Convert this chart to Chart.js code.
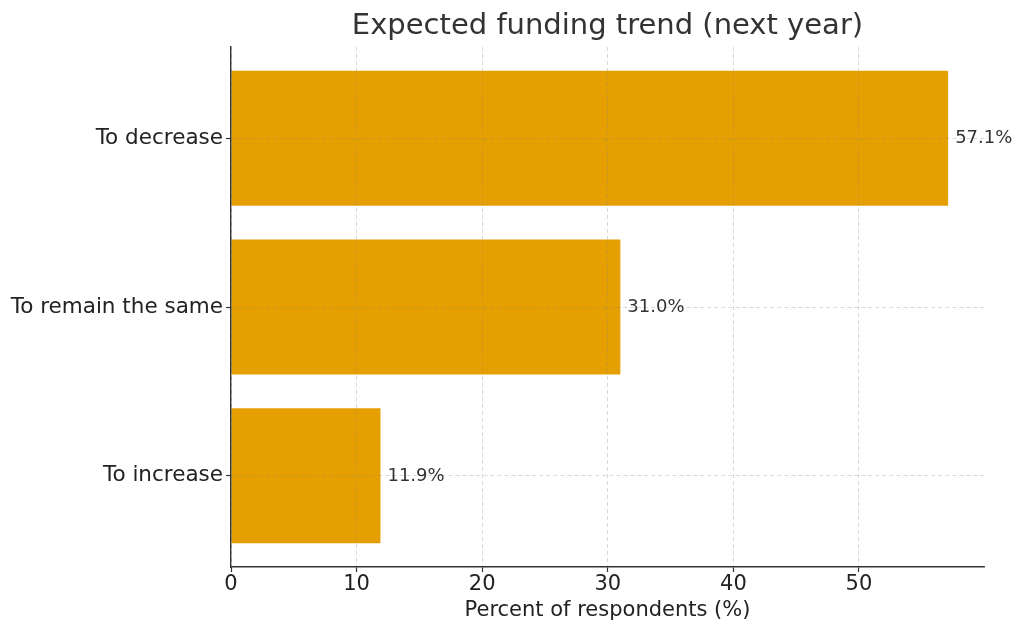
<!DOCTYPE html>
<html>
<head>
<meta charset="utf-8">
<script src="https://cdn.jsdelivr.net/npm/chart.js@4"></script>
<style>
  html, body { margin: 0; padding: 0; background: #fff; }
  #wrap { width: 1014px; height: 623px; }
</style>
</head>
<body>
<div id="wrap"><canvas id="chart-trend" width="1014" height="623"></canvas></div>
<script>
// categories bottom-to-top (index 0 at the bottom, like the picture)
const categories = ["To increase", "To remain the same", "To decrease"];
const percents = [11.9, 31.0, 57.1];
const xTicks = [0, 10, 20, 30, 40, 50];
const yTicks = [0, 1, 2];
const chartTitle = "Expected funding trend (next year)";

const font = "'DejaVu Sans', sans-serif";
const gridColor = "rgba(128, 128, 128, 0.38)";

// title centred over the plot area + value next to the end of each bar
const valueLabels = {
    id: "valueLabels",
    afterDraw(chart) {
        const ctx = chart.ctx;
        const area = chart.chartArea;
        const meta = chart.getDatasetMeta(0);
        ctx.save();
        ctx.font = "29px " + font;
        ctx.fillStyle = "#333333";
        ctx.textAlign = "center";
        ctx.textBaseline = "middle";
        ctx.fillText(chartTitle, (area.left + area.right) / 2, 26);

        ctx.font = "18px " + font;
        ctx.textAlign = "left";
        meta.data.forEach((bar, i) => {
            ctx.fillText(percents[i].toFixed(1) + "%", bar.x + 7, bar.y);
        });
        ctx.restore();
    },
};

const chartData = {
    datasets: [
        {
            label: "Percent of respondents",
            data: percents.map((v, i) => ({ x: v, y: i })),
            backgroundColor: "#E69F00",
            borderWidth: 0,
            barPercentage: 0.8,
            categoryPercentage: 1,
        },
    ],
};

const config = {
    type: "bar",
    data: chartData,
    options: {
        indexAxis: "y",
        responsive: false,
        animation: false,
        layout: { padding: { left: 0, right: 30, top: 47, bottom: 0 } },
        scales: {
            x: {
                type: "linear",
                min: 0,
                max: 59.955,
                afterBuildTicks: (axis) => {
                    axis.ticks = xTicks.map((v) => ({ value: v }));
                },
                afterFit: (axis) => {
                    axis.height = 56;
                },
                ticks: {
                    font: { family: font, size: 21 },
                    color: "#222222",
                    padding: 0,
                    maxRotation: 0,
                },
                grid: {
                    z: 1, // grid sits faintly over the bars
                    color: gridColor,
                    lineWidth: 0.8,
                    tickColor: "#333333",
                    tickLength: 5,
                    tickWidth: 1.2,
                },
                border: { display: true, color: "#333333", width: 1.4, dash: [4, 3], z: 2 },
                title: {
                    display: true,
                    text: "Percent of respondents (%)",
                    font: { family: font, size: 21 },
                    color: "#222222",
                    padding: { top: 0, bottom: 0 },
                },
            },
            y: {
                type: "linear",
                min: -0.54,
                max: 2.54,
                offset: false,
                afterBuildTicks: (axis) => {
                    axis.ticks = yTicks.map((v) => ({ value: v }));
                },
                afterFit: (axis) => {
                    axis.width = 231;
                },
                ticks: {
                    font: { family: font, size: 21.5 },
                    color: "#222222",
                    padding: 3,
                    callback: (v) => categories[v],
                },
                grid: {
                    z: 1,
                    offset: false,
                    color: gridColor,
                    lineWidth: 0.8,
                    tickColor: "#333333",
                    tickLength: 5,
                    tickWidth: 1.2,
                },
                border: { display: true, color: "#333333", width: 1.4, dash: [4, 3], z: 2 },
            },
        },
        plugins: {
            legend: { display: false },
            tooltip: { enabled: false },
            title: { display: false },
        },
    },
    plugins: [valueLabels],
};

const myChart = new Chart(document.getElementById("chart-trend"), config);
</script>
</body>
</html>
